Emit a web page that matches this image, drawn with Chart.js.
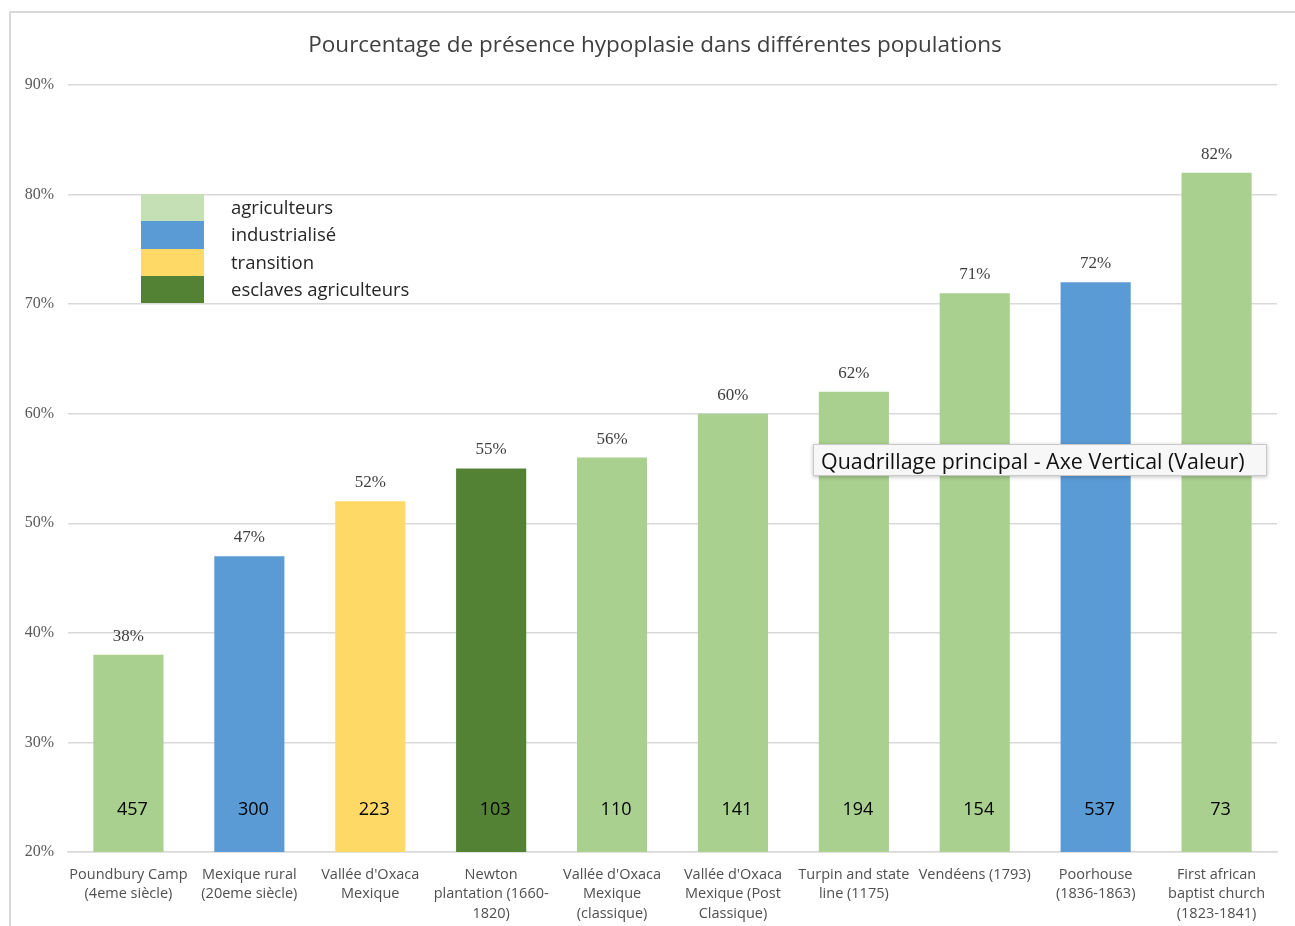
<!doctype html>
<html lang="fr">
  <head>
    <meta charset="utf-8">
    <title>Hypoplasie</title>
    <script src="https://cdn.jsdelivr.net/npm/chart.js@4.4.1/dist/chart.umd.min.js"></script>
    <style>
      html, body { margin: 0; padding: 0; background: #fff; }
      #wrap { position: relative; width: 1295px; height: 926px; }
      #frame {
        position: absolute; left: 9px; top: 11px; width: 1290px; height: 930px;
        border-left: 2px solid #d9d9d9; border-top: 2px solid #d9d9d9;
      }
      canvas { position: absolute; left: 0; top: 0; }
      .title {
        position: absolute; left: 0; top: 28px; width: 1310px; text-align: center;
        font-family: "Open Sans", sans-serif; font-size: 22.5px; color: #404040;
      }
      .legend { position: absolute; left: 141px; top: 194px; font-family: "Open Sans", sans-serif; font-size: 18.5px; color: #262626; }
      .legend .row { height: 27.3px; position: relative; }
      .legend .sw { position: absolute; left: 0; top: 0; width: 63px; height: 27.3px; }
      .legend .lbl { position: absolute; left: 90px; top: 0px; white-space: nowrap; }
      .tip {
        position: absolute; left: 813px; top: 444px; width: 454px; height: 32px;
        background: #f7f7f7; border: 1px solid #c8c8c8; box-shadow: 0 1px 4px rgba(0,0,0,0.25);
        font-family: "Open Sans", sans-serif; font-size: 21.4px; color: #111; line-height: 31px;
        padding-left: 7px; box-sizing: border-box; white-space: nowrap;
      }
    </style>
  </head>
  <body>
    <div id="wrap">
      <div id="frame"></div>
      <canvas id="chart" width="1295" height="926"></canvas>
      <div class="title">Pourcentage de présence hypoplasie dans différentes populations</div>
      <div class="legend" id="legend"></div>
      <div class="tip">Quadrillage principal - Axe Vertical (Valeur)</div>
    </div>

    <script>
      const labels = [
        ["Poundbury Camp", "(4eme siècle)"],
        ["Mexique rural", "(20eme siècle)"],
        ["Vallée d'Oxaca", "Mexique"],
        ["Newton", "plantation (1660-", "1820)"],
        ["Vallée d'Oxaca", "Mexique", "(classique)"],
        ["Vallée d'Oxaca", "Mexique (Post", "Classique)"],
        ["Turpin and state", "line (1175)"],
        ["Vendéens (1793)"],
        ["Poorhouse", "(1836-1863)"],
        ["First african", "baptist church", "(1823-1841)"]
      ];
      const percent = [38, 47, 52, 55, 56, 60, 62, 71, 72, 82];
      const counts = [457, 300, 223, 103, 110, 141, 194, 154, 537, 73];
      const groups = [0, 1, 2, 3, 0, 0, 0, 0, 1, 0];
      const groupNames = ["agriculteurs", "industrialisé", "transition", "esclaves agriculteurs"];
      const groupColors = ["#a9d08e", "#5b9bd5", "#ffd966", "#548235"];
      const legendColors = ["#c5e0b4", "#5b9bd5", "#ffd966", "#548235"];

      const legend = document.getElementById("legend");
      groupNames.forEach((name, i) => {
        legend.insertAdjacentHTML("beforeend",
          '<div class="row"><div class="sw" style="background:' + legendColors[i] + '"></div><div class="lbl">' + name + '</div></div>');
      });

      const barLabels = {
        id: "barLabels",
        afterDatasetsDraw(chart) {
          const ctx = chart.ctx;
          const meta = chart.getDatasetMeta(0);
          ctx.save();
          ctx.textAlign = "center";
          meta.data.forEach((bar, i) => {
            ctx.fillStyle = "#404040";
            ctx.font = "17px 'Liberation Serif', serif";
            ctx.textBaseline = "bottom";
            ctx.fillText(percent[i] + "%", bar.x, bar.y - 10);
            ctx.fillStyle = "#000";
            ctx.font = "18px 'Open Sans', sans-serif";
            ctx.textBaseline = "middle";
            ctx.fillText(counts[i], bar.x + 4, chart.chartArea.bottom - 42);
          });
          ctx.restore();
        }
      };

      new Chart(document.getElementById("chart"), {
        type: "bar",
        data: {
          labels,
          datasets: [{
            data: percent,
            backgroundColor: groups.map(g => groupColors[g]),
            categoryPercentage: 1,
            barPercentage: 0.58
          }]
        },
        options: {
          responsive: false,
          animation: false,
          layout: { padding: { left: 10, right: 18, top: 85, bottom: 0 } },
          plugins: {
            legend: { display: false },
            tooltip: { enabled: false }
          },
          scales: {
            y: {
              min: 20, max: 90,
              ticks: {
                stepSize: 10,
                callback: v => v + "%",
                color: "#595959",
                font: { family: "'Liberation Serif', serif", size: 16 },
                padding: 14
              },
              grid: { color: "#d9d9d9", lineWidth: 1.5, drawTicks: false },
              border: { display: false },
              afterFit: s => { s.width = 58; }
            },
            x: {
              ticks: {
                color: "#505050",
                font: { family: "'Open Sans', sans-serif", size: 14.5, lineHeight: 1.35 },
                maxRotation: 0, autoSkip: false, padding: 5
              },
              grid: { display: false },
              border: { color: "#d9d9d9", width: 1.5 },
              afterFit: s => { s.height = 74; }
            }
          }
        },
        plugins: [barLabels]
      });
    </script>
  </body>
</html>
